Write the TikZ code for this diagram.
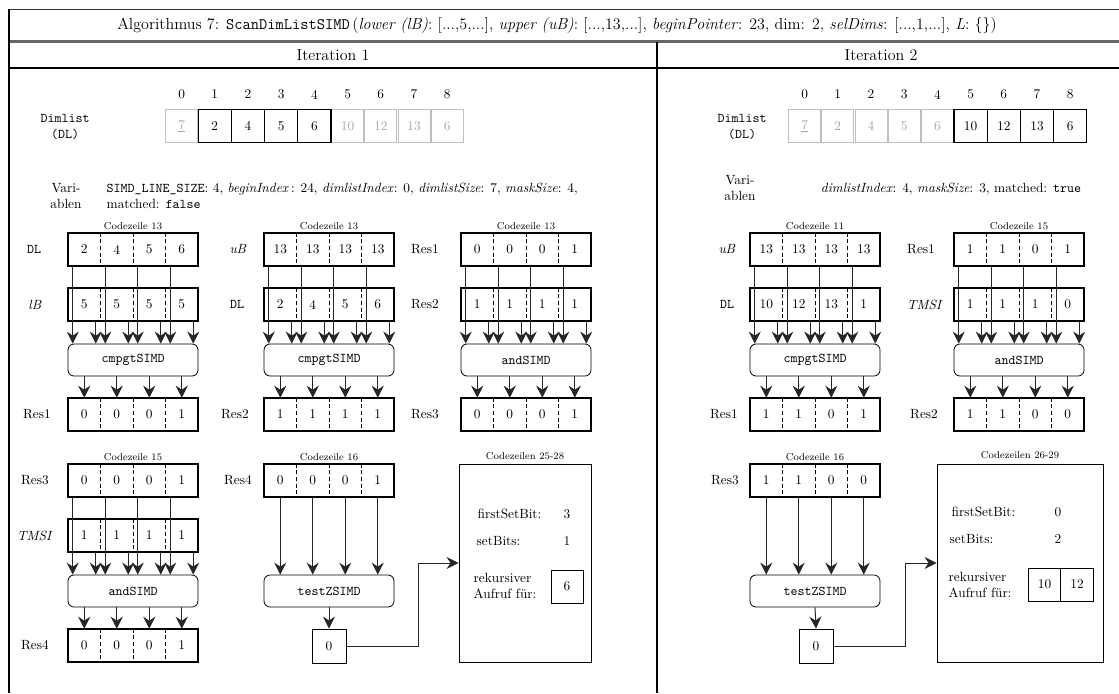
\documentclass[tikz,border=0pt]{standalone}
\usetikzlibrary{arrows.meta,calc}

% one register of four SIMD lanes: name, left x, top y, lane values
\newcommand\reg[4]{%
  \node[regframe] (#1) at ({#2+65},{#3+16.5}) {};
  \foreach \v [count=\i] in {#4}
    \node[cellval] (#1-\i) at ({#2-16.25+32.5*\i},{#3+16.5}) {\v};
  \foreach \i in {1,2,3}
    \draw[divider] (#1-\i.north east) -- (#1-\i.south east);
}
% two operand registers feeding an operation, lanes into a result register
\newcommand\feedtwo[4]{%
  \foreach \i in {1,2,3,4} {
    \coordinate (#1-\i-d) at ($(#1-\i.south west)+(5,0)$);
    \coordinate (#2-\i-d) at ($(#2-\i.south east)+(-5,0)$);
    \draw[flow] (#1-\i-d) -- (#1-\i-d |- #3.north);
    \draw[flow] (#2-\i-d) -- (#2-\i-d |- #3.north);
    \draw[flow] (#3.south -| #4-\i) -- (#4-\i.north);
  }
}
% one register feeding an operation with a single result
\newcommand\feedone[3]{%
  \foreach \i in {1,2,3,4}
    \draw[flow] (#1-\i.south) -- (#1-\i.south |- #2.north);
  \draw[flow] (#2.south) -- (#3.north);
}

\begin{document}
\begin{tikzpicture}[x=0.75pt,y=-0.75pt,
  regframe/.style={draw, line width=1.7pt, minimum width=97.5pt, minimum height=24.75pt, inner sep=0pt},
  cellval/.style={minimum width=24.375pt, minimum height=24.75pt, inner sep=0pt},
  divider/.style={line width=0.6pt, dash pattern=on 3pt off 2pt},
  opbox/.style={draw, rounded corners=4.5pt, line width=0.6pt, minimum width=97.5pt, minimum height=24pt, inner sep=0pt, font=\ttfamily},
  flow/.style={draw=black!85, line width=0.75pt, -{Stealth[length=9pt,width=9pt,inset=3pt]}},
  codeline/.style={font=\fontsize{7.5}{9}\selectfont},
  plainbox/.style={draw, line width=0.7pt, inner sep=0pt},
  dlgray/.style={draw=black!25, text=black!35, minimum width=23.9pt, minimum height=24.5pt, inner sep=0pt, line width=0.6pt},
  dlon/.style={draw=black, minimum width=24.9pt, minimum height=24.9pt, inner sep=0pt, line width=0.9pt},
  twoline/.style={align=center},
]
\useasboundingbox (0,0) rectangle (1119,693);

% ---------------- table frame ----------------
\draw[line width=0.7pt, black!80] (9,9) -- (1119,9);
\draw[line width=1.8pt, black!60] (9,41.5) -- (1119,41.5);
\draw[line width=0.8pt] (9,68) -- (1119,68);
\draw[line width=0.8pt] (9,9) -- (9,693);
\draw[line width=0.8pt] (657,41.5) -- (657,693);

\node[font=\large] (title) at (557,25.5) {Algorithmus 7: \texttt{ScanDimListSIMD}\,(\textit{lower (lB)}: [...,5,...], \textit{upper (uB)}: [...,13,...], \textit{beginPointer}: 23, dim: 2, \textit{selDims}: [...,1,...], \textit{L}: \{\})};
\node[font=\large] (it1) at (333,55) {Iteration 1};
\node[font=\large] (it2) at (881,55) {Iteration 2};

% ---------------- iteration 1: dimlist and variables ----------------
\node[twoline, font=\ttfamily] (dlname1) at (65,127) {Dimlist\\(DL)};
\foreach \i/\v in {0/\underline{7},5/10,6/12,7/13,8/6}
  \node[dlgray] (dla-\i) at ({181.6+33.2*\i},126) {\v};
\foreach \i/\v in {1/2,2/4,3/5,4/6}
  \node[dlon] (dla-\i) at ({181.6+33.2*\i},126) {\v};
\foreach \i in {0,...,8}
  \node (idxa-\i) at ({181.6+33.2*\i},94.5) {\i};
\node[twoline] (var1) at (66,196) {Vari-\\ablen};
\node[anchor=west, align=left] (vals1) at (102,196) {\texttt{SIMD\_LINE\_SIZE}: 4, \textit{beginIndex}\,: 24, \textit{dimlistIndex}: 0, \textit{dimlistSize}: 7, \textit{maskSize}: 4,\\matched: \texttt{false}};

% ---------------- iteration 2: dimlist and variables ----------------
\node[twoline, font=\ttfamily] (dlname2) at (742,127) {Dimlist\\(DL)};
\foreach \i/\v in {0/\underline{7},1/2,2/4,3/5,4/6}
  \node[dlgray] (dlb-\i) at ({804.6+33.2*\i},126) {\v};
\foreach \i/\v in {5/10,6/12,7/13,8/6}
  \node[dlon] (dlb-\i) at ({804.6+33.2*\i},126) {\v};
\foreach \i in {0,...,8}
  \node (idxb-\i) at ({804.6+33.2*\i},94.5) {\i};
\node[twoline] (var2) at (740,188) {Vari-\\ablen};
\node (vals2) at (951,189) {\textit{dimlistIndex}: 4, \textit{maskSize}: 3, matched: \texttt{true}};

% ---------------- iteration 1, first row ----------------
\node[codeline] (cA) at (133,226) {Codezeile 13};
\reg{pA}{68}{233}{2,4,5,6}
\reg{qA}{68}{288}{5,5,5,5}
\node[opbox] (oA) at (133,360) {cmpgtSIMD};
\reg{rA}{68}{398}{0,0,0,1}
\node (lpA) at (34,249.5) {\texttt{DL}};
\node (lqA) at (35,304.5) {\textit{lB}};
\node (lrA) at (37,414.5) {Res1};
\feedtwo{pA}{qA}{oA}{rA}

\node[codeline] (cB) at (329,226) {Codezeile 13};
\reg{pB}{264}{233}{13,13,13,13}
\reg{qB}{264}{288}{2,4,5,6}
\node[opbox] (oB) at (329,360) {cmpgtSIMD};
\reg{rB}{264}{398}{1,1,1,1}
\node (lpB) at (238,249.5) {\textit{uB}};
\node (lqB) at (237,304.5) {\texttt{DL}};
\node (lrB) at (235,414.5) {Res2};
\feedtwo{pB}{qB}{oB}{rB}

\node[codeline] (cC) at (526,226) {Codezeile 13};
\reg{pC}{461}{233}{0,0,0,1}
\reg{qC}{461}{288}{1,1,1,1}
\node[opbox] (oC) at (526,360) {andSIMD};
\reg{rC}{461}{398}{0,0,0,1}
\node (lpC) at (425,249.5) {Res1};
\node (lqC) at (425,304.5) {Res2};
\node (lrC) at (425,414.5) {Res3};
\feedtwo{pC}{qC}{oC}{rC}

% ---------------- iteration 1, second row ----------------
\node[codeline] (cD) at (133,457) {Codezeile 15};
\reg{pD}{68}{464}{0,0,0,1}
\reg{qD}{68}{519}{1,1,1,1}
\node[opbox] (oD) at (133,591) {andSIMD};
\reg{rD}{68}{629}{0,0,0,1}
\node (lpD) at (35,480.5) {Res3};
\node (lqD) at (35,535.5) {\textit{TMSI}};
\node (lrD) at (35,645.5) {Res4};
\feedtwo{pD}{qD}{oD}{rD}

\node[codeline] (cE) at (329,457) {Codezeile 16};
\reg{pE}{264}{464}{0,0,0,1}
\node (lpE) at (238,480.5) {Res4};
\node[opbox] (oE) at (329,591) {testZSIMD};
\node[plainbox, minimum size=25.5pt] (zE) at (329,646) {0};
\feedone{pE}{oE}{zE}

\node[plainbox, minimum width=99pt, minimum height=148.5pt] (bE) at (525,563) {};
\node[codeline] (cbE) at (525,456) {Codezeilen 25-28};
\node[anchor=west] (fsE) at (473,514) {firstSetBit:};
\node (fsvE) at (567,514) {3};
\node[anchor=west] (sbE) at (472,541) {setBits:};
\node (sbvE) at (567,541) {1};
\node[anchor=west, align=left] (rkE) at (469,586) {rekursiver\\Aufruf für:};
\node[plainbox, minimum width=24pt, minimum height=24.75pt] (rvE) at (567,586.5) {6};
\coordinate (kE) at (418,646);
\draw[flow] (zE.east) -- (kE) |- (bE.west);

% ---------------- iteration 2, first row ----------------
\node[codeline] (cF) at (815,226) {Codezeile 11};
\reg{pF}{750}{233}{13,13,13,13}
\reg{qF}{750}{288}{10,12,13,1}
\node[opbox] (oF) at (815,360) {cmpgtSIMD};
\reg{rF}{750}{398}{1,1,0,1}
\node (lpF) at (727,249.5) {\textit{uB}};
\node (lqF) at (727,304.5) {\texttt{DL}};
\node (lrF) at (724,414.5) {Res1};
\feedtwo{pF}{qF}{oF}{rF}

\node[codeline] (cG) at (1019,226) {Codezeile 15};
\reg{pG}{954}{233}{1,1,0,1}
\reg{qG}{954}{288}{1,1,1,0}
\node[opbox] (oG) at (1019,360) {andSIMD};
\reg{rG}{954}{398}{1,1,0,0}
\node (lpG) at (921,249.5) {Res1};
\node (lqG) at (925,304.5) {\textit{TMSI}};
\node (lrG) at (924,414.5) {Res2};
\feedtwo{pG}{qG}{oG}{rG}

% ---------------- iteration 2, second row ----------------
\node[codeline] (cH) at (815,457) {Codezeile 16};
\reg{pH}{750}{464}{1,1,0,0}
\node (lpH) at (725,480.5) {Res3};
\node[opbox] (oH) at (815,591) {testZSIMD};
\node[plainbox, minimum size=25.5pt] (zH) at (816,646) {0};
\feedone{pH}{oH}{zH}

\node[plainbox, minimum width=124.5pt, minimum height=148.5pt] (bH) at (1020,563) {};
\node[codeline] (cbH) at (1020,455) {Codezeilen 26-29};
\node[anchor=west] (fsH) at (947,512) {firstSetBit:};
\node (fsvH) at (1058,512) {0};
\node[anchor=west] (sbH) at (945,539) {setBits:};
\node (sbvH) at (1058,539) {2};
\node[anchor=west, align=left] (rkH) at (944,585) {rekursiver\\Aufruf für:};
\node[plainbox, minimum width=24.375pt, minimum height=24.75pt] (rvH1) at (1044.5,584.5) {10};
\node[plainbox, minimum width=24.375pt, minimum height=24.75pt] (rvH2) at (1077,584.5) {12};
\coordinate (kH) at (905,646);
\draw[flow] (zH.east) -- (kH) |- (bH.west);
\end{tikzpicture}
\end{document}
